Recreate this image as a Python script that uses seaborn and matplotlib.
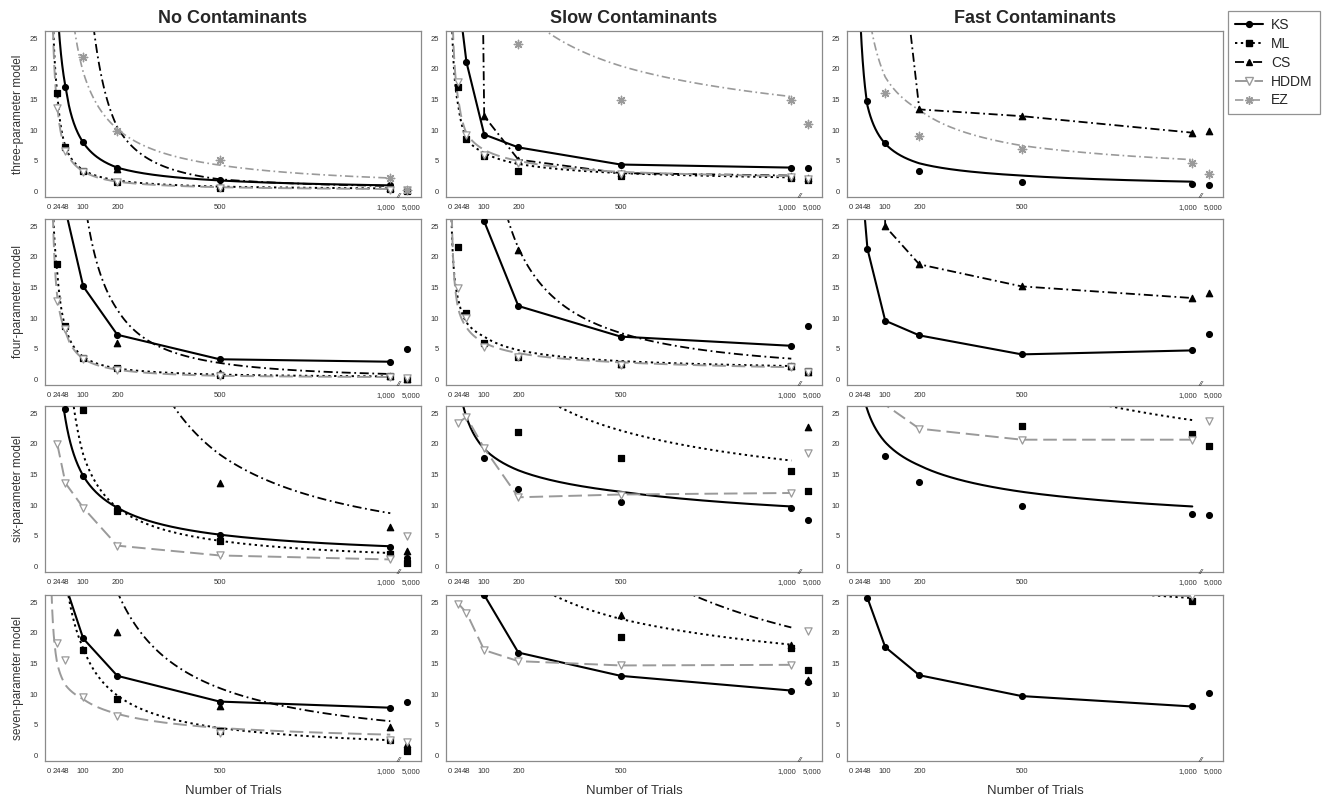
import numpy as np
import pandas as pd
import matplotlib
matplotlib.use("Agg")
import matplotlib.pyplot as plt
import matplotlib.transforms as mtransforms
from matplotlib.lines import Line2D
import seaborn as sns

nan = np.nan

# ---------------- data ----------------
N_TRIALS = [24, 48, 100, 200, 500, 1000, 5000]
X_TICKS = [0, 24, 48, 100, 200, 500, 1000, 5000]
X_TICK_LABELS = ["0", "24", "48", "100", "200", "500", "1,000", "5,000"]
Y_TICKS = [0, 5, 10, 15, 20, 25]
CONDITIONS = ["No Contaminants", "Slow Contaminants", "Fast Contaminants"]
MODELS = ["three-parameter model", "four-parameter model",
          "six-parameter model", "seven-parameter model"]
METHODS = ["KS", "ML", "CS", "HDDM", "EZ"]

# point values per panel (at N_TRIALS); values above 26 are off the plotted range
pts_three_none = dict(KS=[nan, 17.1, 8.0, 3.8, 1.8, 1.0, 0.3],
                      ML=[16.1, 7.2, 3.4, 1.6, 0.6, 0.4, 0.1],
                      CS=[nan, nan, nan, 3.6, 0.9, 0.6, 0.2],
                      HDDM=[13.7, 6.6, 3.2, 1.5, 0.6, 0.3, 0.2],
                      EZ=[nan, nan, 21.9, 9.9, 5.2, 2.2, 0.3])
pts_three_slow = dict(KS=[32, 21.1, 9.3, 7.2, 4.4, 3.9, 3.8],
                      ML=[17.0, 8.5, 5.8, 3.4, 2.6, 2.2, 1.8],
                      CS=[nan, 250, 12.3, 5.2, 3.0, 2.6, 2.2],
                      HDDM=[17.8, 9.3, 6.0, 4.6, 2.8, 2.3, 2.0],
                      EZ=[nan, nan, nan, 24.0, 15.0, 14.9, 11.0])
pts_three_fast = dict(KS=[nan, 14.8, 7.9, 3.4, 1.5, 1.2, 1.0],
                      CS=[nan, nan, 62, 13.4, 12.3, 9.6, 9.8],
                      EZ=[nan, nan, 16.0, 9.1, 6.9, 4.6, 2.9])
pts_four_none = dict(KS=[nan, 27.7, 15.2, 7.3, 3.3, 2.9, 5.0],
                     ML=[18.8, 8.8, 3.5, 1.8, 0.7, 0.5, 0.1],
                     CS=[nan, nan, nan, 6.0, 1.0, 0.5, 0.1],
                     HDDM=[12.8, 8.3, 3.3, 1.6, 0.5, 0.4, 0.2])
pts_four_slow = dict(KS=[nan, 45, 25.8, 12.0, 7.0, 5.5, 8.8],
                     ML=[21.7, 10.8, 5.9, 3.7, 2.5, 2.2, 1.4],
                     CS=[nan, nan, nan, 21.2, 2.5, 2.2, 1.3],
                     HDDM=[14.9, 10.0, 5.3, 3.6, 2.3, 2.0, 1.3])
pts_four_fast = dict(KS=[37, 21.3, 9.6, 7.2, 4.1, 4.75, 7.4],
                     CS=[nan, 200, 25.0, 18.8, 15.2, 13.3, 14.2])
pts_six_none = dict(KS=[nan, 25.7, 14.8, 9.5, 5.2, 3.2, 1.4],
                    ML=[nan, nan, 25.6, 9.0, 4.1, 2.0, 0.6],
                    CS=[nan, nan, nan, nan, 13.7, 6.5, 2.6],
                    HDDM=[20.0, 13.6, 9.6, 3.4, 1.8, 1.15, 4.9])
pts_six_slow = dict(KS=[nan, nan, 17.7, 12.6, 10.5, 9.6, 7.6],
                    ML=[nan, nan, nan, 22.0, 17.7, 15.6, 12.3],
                    CS=[nan, nan, nan, nan, nan, nan, 22.7],
                    HDDM=[23.5, 24.4, 19.3, 11.3, 11.75, 12.0, 18.5])
pts_six_fast = dict(KS=[nan, nan, 18.0, 13.8, 9.9, 8.6, 8.4],
                    ML=[nan, nan, nan, nan, 22.9, 21.7, 19.65],
                    HDDM=[nan, 30, 26.4, 22.5, 20.7, 20.7, 23.7])
pts_seven_none = dict(KS=[nan, 27.8, 19.1, 13.0, 8.8, 7.8, 8.8],
                      ML=[nan, nan, 17.2, 9.2, 4.0, 2.55, 0.7],
                      CS=[nan, nan, nan, 20.2, 8.0, 4.7, 1.9],
                      HDDM=[18.4, 15.6, 9.6, 6.4, 3.7, 2.6, 2.2])
pts_seven_slow = dict(KS=[nan, nan, 26.2, 16.8, 13.0, 10.6, 12.0],
                      ML=[nan, nan, nan, nan, 19.4, 17.6, 13.9],
                      CS=[nan, nan, nan, nan, 22.9, 18.0, 12.4],
                      HDDM=[24.8, 23.3, 17.2, 15.4, 14.7, 14.8, 20.4])
pts_seven_fast = dict(KS=[nan, 25.7, 17.7, 13.1, 9.7, 8.0, 10.2],
                      ML=[nan, nan, nan, nan, nan, 25.2, nan],
                      HDDM=[nan, nan, nan, nan, 27.5, 26.0, nan])

# line per method: "poly" = points joined, otherwise knots (N, value) of the fitted curve
lines_three_none = dict(KS=[(28, 27), (48, 17.1), (100, 8.0), (200, 3.9), (500, 1.8), (1000, 1.0)],
                        ML=[(12, 27), (24, 16.0), (48, 7.3), (100, 3.5), (200, 1.8), (500, 0.8), (1000, 0.5)],
                        CS=[(130, 27), (200, 10.5), (500, 2.0), (1000, 0.9)],
                        HDDM=[(11, 27), (24, 13.9), (48, 6.8), (100, 3.3), (200, 1.6), (500, 0.7), (1000, 0.4)],
                        EZ=[(73, 27), (100, 19.5), (200, 10.2), (500, 4.3), (1000, 2.2)])
lines_three_slow = dict(KS="poly",
                        ML=[(6, 27), (24, 14), (48, 8.6), (100, 6.3), (200, 4.5), (500, 3.0), (1000, 2.3)],
                        CS="poly",
                        HDDM=[(8, 27), (24, 15), (48, 9.5), (100, 6.8), (200, 5.0), (500, 3.2), (1000, 2.5)],
                        EZ=[(262, 27), (500, 20.5), (1000, 15.5)])
lines_three_fast = dict(KS=[(28, 27), (48, 14), (100, 7.8), (200, 4.6), (500, 2.6), (1000, 1.6)],
                        CS="poly",
                        EZ=[(58, 27), (100, 18.7), (200, 13.3), (500, 7.5), (1000, 5.2)])
lines_four_none = dict(KS="poly",
                       ML=[(12, 27), (24, 17.5), (48, 8.5), (100, 3.7), (200, 1.8), (500, 0.8), (1000, 0.5)],
                       CS=[(110, 27), (200, 11.4), (500, 2.7), (1000, 0.9)],
                       HDDM=[(11, 27), (24, 13.5), (48, 7.8), (100, 3.4), (200, 1.6), (500, 0.6), (1000, 0.4)])
lines_four_slow = dict(KS="poly",
                       ML=[(4, 27), (24, 13), (48, 9.3), (100, 7.0), (200, 4.8), (500, 3.0), (1000, 2.2)],
                       CS=[(165, 27), (200, 21.5), (500, 7.6), (1000, 3.4)],
                       HDDM=[(5, 27), (24, 11.5), (48, 8.5), (100, 6.0), (200, 4.3), (500, 2.8), (1000, 2.0)])
lines_four_fast = dict(KS="poly", CS="poly")
lines_six_none = dict(KS=[(40, 27), (48, 24), (100, 14.8), (200, 9.6), (500, 5.2), (1000, 3.3)],
                      ML=[(70, 27), (100, 18.3), (200, 9.6), (500, 4.2), (1000, 2.2)],
                      CS=[(355, 27), (500, 18.3), (1000, 8.7)],
                      HDDM="poly")
lines_six_slow = dict(KS=[(35, 27), (100, 19.2), (200, 15.7), (500, 12.2), (1000, 9.8)],
                      ML=[(290, 27), (500, 22.2), (1000, 17.3)],
                      HDDM="poly")
lines_six_fast = dict(KS=[(40, 27), (100, 20.3), (200, 16.5), (500, 12.2), (1000, 9.8)],
                      ML=[(690, 27), (1000, 23.9)],
                      HDDM="poly")
lines_seven_none = dict(KS="poly",
                        ML=[(54, 27), (100, 17.5), (200, 9.8), (500, 4.5), (1000, 2.5)],
                        CS=[(198, 27), (500, 11.0), (1000, 5.6)],
                        HDDM=[(7, 27), (24, 15), (48, 11.5), (100, 9.2), (200, 6.8), (500, 4.5), (1000, 3.4)])
lines_seven_slow = dict(KS="poly",
                        ML=[(275, 27), (500, 22.3), (1000, 18.1)],
                        CS=[(680, 27), (1000, 20.9)],
                        HDDM="poly")
lines_seven_fast = dict(KS="poly",
                        ML=[(780, 26.6), (1000, 25.7)],
                        HDDM="poly")

PANELS = [[(pts_three_none, lines_three_none), (pts_three_slow, lines_three_slow), (pts_three_fast, lines_three_fast)],
          [(pts_four_none, lines_four_none), (pts_four_slow, lines_four_slow), (pts_four_fast, lines_four_fast)],
          [(pts_six_none, lines_six_none), (pts_six_slow, lines_six_slow), (pts_six_fast, lines_six_fast)],
          [(pts_seven_none, lines_seven_none), (pts_seven_slow, lines_seven_slow), (pts_seven_fast, lines_seven_fast)]]

# ---------------- style ----------------
GRAY = "#9a9a9a"
STYLE = {
    "KS":   dict(color="black", ls="-", lw=1.5, marker="o", mfc="black", ms=4.2),
    "ML":   dict(color="black", ls=(0, (1.2, 1.8)), lw=1.4, marker="s", mfc="black", ms=4.2),
    "CS":   dict(color="black", ls=(0, (5, 2, 1, 2)), lw=1.3, marker="^", mfc="black", ms=4.6),
    "HDDM": dict(color=GRAY, ls=(0, (7, 3)), lw=1.4, marker="v", mfc="white", ms=5.2),
    "EZ":   dict(color=GRAY, ls=(0, (5, 2, 1, 2)), lw=1.2, marker=(8, 2, 0), mfc=GRAY, ms=6),
}
BREAK_POS = 1050  # plotted position of N = 5,000 after the axis break
# horizontal nudges (pixels) for crowded tick labels
LABEL_NUDGE = {"1,000": -4, "5,000": 4}


def xpos(n):
    return BREAK_POS if n == 5000 else n


def fitted_curve(knots):
    xs, ys = [], []
    for (x0, y0), (x1, y1) in zip(knots[:-1], knots[1:]):
        p = np.log(y1 / y0) / np.log(x1 / x0)
        seg = np.geomspace(x0, x1, 40)
        xs.extend(seg)
        ys.extend(y0 * (seg / x0) ** p)
    return np.array(xs), np.array(ys)


sns.set_theme(style="white")
plt.rcParams["font.family"] = ["Liberation Sans", "DejaVu Sans"]

W, H = 1326, 798
fig = plt.figure(figsize=(W / 100, H / 100), dpi=100)
col_left = [45, 446, 847]
row_top = [31, 219, 406, 595]
aw, ah = 376, 166

for r in range(4):
    for c in range(3):
        pts, lines = PANELS[r][c]
        ax = fig.add_axes([col_left[c] / W, 1 - (row_top[r] + ah) / H, aw / W, ah / H])
        ax.set_xlim(-12, 1090)
        ax.set_ylim(-0.9, 26.2)
        for m in METHODS:
            st = STYLE[m]
            if m in lines:
                spec = lines[m]
                if isinstance(spec, str):
                    vals = pts[m]
                    lx = [n for n, v in zip(N_TRIALS, vals) if n != 5000 and not np.isnan(v)]
                    ly = [v for n, v in zip(N_TRIALS, vals) if n != 5000 and not np.isnan(v)]
                else:
                    lx, ly = fitted_curve(spec)
                sns.lineplot(x=np.asarray(lx, float), y=np.asarray(ly, float), ax=ax, sort=False,
                             estimator=None, color=st["color"], linestyle=st["ls"], lw=st["lw"])
            if m in pts:
                df = pd.DataFrame({"x": [xpos(n) for n in N_TRIALS], "y": pts[m]}).dropna()
                df = df[df.y <= 26.2]
                if m == "EZ":
                    sns.scatterplot(data=df, x="x", y="y", ax=ax, marker=st["marker"], s=st["ms"] ** 2,
                                    color=GRAY, linewidth=1.0, edgecolor=GRAY, zorder=4)
                else:
                    sns.scatterplot(data=df, x="x", y="y", ax=ax, marker=st["marker"], s=st["ms"] ** 2,
                                    facecolor=st["mfc"], edgecolor=st["color"], linewidth=0.9, zorder=4)
        ax.set_xticks([xpos(n) for n in X_TICKS])
        ax.set_xticklabels(X_TICK_LABELS)
        ax.set_yticks(Y_TICKS)
        ax.set_xlabel("")
        ax.set_ylabel("")
        ax.tick_params(axis="both", direction="out", length=3.5, width=0.6, color="#777777",
                       labelsize=5.5, labelcolor="#333333", pad=1.5)
        for lab in ax.get_xticklabels():
            dx = LABEL_NUDGE.get(lab.get_text(), 0)
            if dx:
                lab.set_transform(lab.get_transform() +
                                  mtransforms.ScaledTranslation(dx / 100, 0, fig.dpi_scale_trans))
        for sp in ax.spines.values():
            sp.set_color("#8a8a8a")
            sp.set_linewidth(0.9)
        ax.text(1025, -0.9, "//", fontsize=6, style="italic", ha="center", va="center",
                color="#333333", clip_on=False, zorder=6)
        if c == 0:
            ax.set_ylabel(MODELS[r], fontsize=8.5, color="#333333", labelpad=4)
        if r == 0:
            ax.set_title(CONDITIONS[c], fontsize=13, fontweight="bold", pad=6)
        if r == 3:
            ax.set_xlabel("Number of Trials", fontsize=9.5, color="#333333", labelpad=7)

handles = [Line2D([0], [0], color=STYLE[m]["color"], ls=STYLE[m]["ls"], lw=STYLE[m]["lw"],
                  marker=STYLE[m]["marker"], markerfacecolor=STYLE[m]["mfc"],
                  markeredgecolor=STYLE[m]["color"], markersize=STYLE[m]["ms"]) for m in METHODS]
leg = fig.legend(handles, METHODS, loc="upper left", bbox_to_anchor=(1228 / W, 1 - 11 / H),
                 frameon=True, fancybox=False, fontsize=10, handlelength=2.0, borderpad=0.5,
                 labelspacing=0.35, handletextpad=0.6, borderaxespad=0)
leg.get_frame().set_edgecolor("#777777")
leg.get_frame().set_linewidth(0.9)

fig.savefig("out.png", dpi=100)
